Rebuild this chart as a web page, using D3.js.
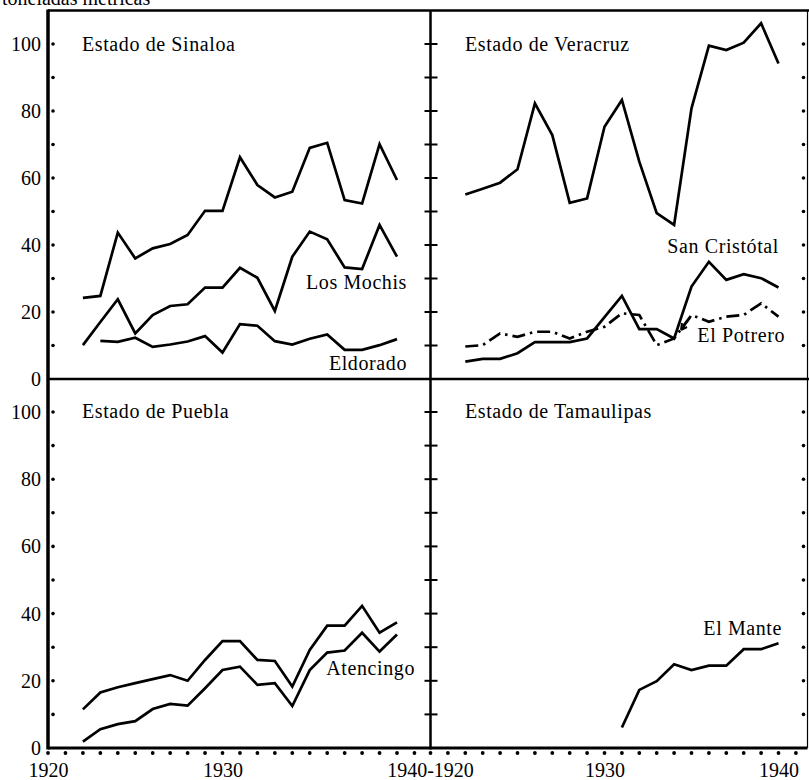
<!DOCTYPE html>
<html>
<head>
<meta charset="utf-8">
<script src="https://cdn.jsdelivr.net/npm/d3@7/dist/d3.min.js"></script>
<style>
  html, body { margin: 0; padding: 0; background: #fff; }
  svg { display: block; }
  svg text { font-family: "Liberation Serif", "Times New Roman", serif !important; fill: #000; }
</style>
</head>
<body>
<svg id="chart" width="809" height="780"></svg>
<script>
// Producción de azúcar por ingenio, 1922-1940 (miles de toneladas métricas)
const years = [1922,1923,1924,1925,1926,1927,1928,1929,1930,1931,1932,1933,1934,1935,1936,1937,1938,1939,1940];
const eldoradoYears = [1923,1924,1925,1926,1927,1928,1929,1930,1931,1932,1933,1934,1935,1936,1937,1938,1939,1940];
const manteYears = [1931,1932,1933,1934,1935,1936,1937,1938,1939,1940];

// Estado de Sinaloa
const sinaloaTotal = [24.2,24.8,43.7,36.0,39.0,40.3,43.0,50.2,50.2,66.2,57.9,54.2,55.9,69.0,70.5,53.4,52.4,70.1,59.4];
const losMochis    = [10.1,17.0,23.8,13.6,19.1,21.8,22.3,27.3,27.3,33.2,30.2,20.3,36.5,44.0,41.7,33.3,32.8,46.0,36.5];
const eldorado     = [11.4,11.1,12.3,9.6,10.3,11.2,12.8,7.9,16.4,15.9,11.3,10.3,12.0,13.3,8.7,8.7,10.1,11.9];

// Estado de Veracruz
const veracruzTotal = [55.1,56.8,58.6,62.6,82.3,72.8,52.6,53.9,75.3,83.3,64.9,49.5,46.0,80.8,99.5,98.2,100.4,106.2,94.2];
const sanCristobal  = [5.2,6.0,6.0,7.7,11.0,11.0,11.0,12.1,18.5,24.8,14.9,14.9,12.1,27.6,35.0,29.6,31.3,30.1,27.3];
const elPotrero     = [9.7,10.1,13.6,12.6,14.1,14.1,12.1,14.1,15.6,19.6,19.1,10.1,12.1,19.1,17.1,18.6,19.1,22.6,18.6];

// Estado de Puebla
const pueblaTotal = [11.5,16.5,18.1,19.3,20.5,21.7,20.0,26.2,31.8,31.8,26.2,25.9,18.3,29.2,36.4,36.4,42.3,34.3,37.4];
const atencingo   = [1.9,5.6,7.1,8.0,11.6,13.1,12.6,17.8,23.2,24.2,18.8,19.3,12.5,23.2,28.4,29.0,34.3,28.7,33.8];

// Estado de Tamaulipas
const elMante = [6.1,17.3,19.9,24.9,23.2,24.5,24.5,29.4,29.4,31.2];

const yTickValues = [0,20,40,60,80,100];
const yDotValues = [10,20,30,40,50,60,70,80,90,100];
const xTickLeft = [1920,1930];
const xTickRight = [1930,1940];
const yearDots = [1920,1921,1922,1923,1924,1925,1926,1927,1928,1929,1930,1931,1932,1933,1934,1935,1936,1937,1938,1939,1940,1941];

const SERIF = '"Liberation Serif", "Times New Roman", serif';
const svg = d3.select("#chart");

// Scales: two columns share one year spacing, two rows share one value spacing
const xLeft  = d3.scaleLinear().domain([1920, 1940]).range([48, 397]);
const xRight = d3.scaleLinear().domain([1920, 1940]).range([430.5, 778.5]);
const yTop    = d3.scaleLinear().domain([0, 100]).range([379, 44]);
const yBottom = d3.scaleLinear().domain([0, 100]).range([748, 412]);

const LEFT = 48, MID = 430.5, RIGHT = 806.5, TOP = 10.5, MIDY = 379, BOTTOM = 748;

// Unit caption (runs off the top edge)
svg.append("text").attr("x", 2).attr("y", 5)
  .style("font-family", SERIF).style("font-size", "20px")
  .text("toneladas métricas");

// Frame
const frame = svg.append("g").attr("stroke", "#000").attr("fill", "none");
frame.append("line").attr("x1", LEFT).attr("x2", 809).attr("y1", TOP).attr("y2", TOP).attr("stroke-width", 2.5);
frame.append("line").attr("x1", LEFT).attr("x2", 809).attr("y1", MIDY).attr("y2", MIDY).attr("stroke-width", 2.5);
frame.append("line").attr("x1", LEFT).attr("x2", RIGHT + 1).attr("y1", BOTTOM).attr("y2", BOTTOM).attr("stroke-width", 3);
frame.append("line").attr("x1", LEFT).attr("x2", LEFT).attr("y1", TOP - 1).attr("y2", BOTTOM + 1.5).attr("stroke-width", 3.5);
frame.append("line").attr("x1", MID).attr("x2", MID).attr("y1", TOP).attr("y2", BOTTOM + 1.5).attr("stroke-width", 2.5);
frame.append("line").attr("x1", RIGHT + 1).attr("x2", RIGHT + 1).attr("y1", TOP).attr("y2", BOTTOM).attr("stroke-width", 1.2);

// Left value axes with labels
[yTop, yBottom].forEach(ys => {
  const g = svg.append("g")
    .attr("transform", `translate(${LEFT - 7},0)`)
    .call(d3.axisLeft(ys).tickValues(yTickValues).tickSize(0).tickPadding(0).tickFormat(d3.format("d")));
  g.attr("font-family", null).attr("font-size", null);
  g.select(".domain").remove();
  g.selectAll("text")
    .style("font-family", SERIF)
    .style("font-size", "20px")
    .attr("fill", "#000")
    .attr("dy", "0.32em");
  // dots inside the left axis
  svg.append("g").selectAll("circle").data(yDotValues).join("circle")
    .attr("cx", LEFT + 5).attr("cy", d => ys(d)).attr("r", 1.8).attr("fill", "#000");
  // cross ticks on the middle axis
  svg.append("g").selectAll("line").data(yDotValues).join("line")
    .attr("x1", MID - 6).attr("x2", MID + 7)
    .attr("y1", d => ys(d)).attr("y2", d => ys(d))
    .attr("stroke", "#000").attr("stroke-width", 2);
  // dots along the right edge
  svg.append("g").selectAll("circle").data(yDotValues).join("circle")
    .attr("cx", RIGHT - 3).attr("cy", d => ys(d)).attr("r", 1.8).attr("fill", "#000");
});

// Year dots under the bottom axis
[xLeft, xRight].forEach(xs => {
  svg.append("g").selectAll("circle").data(yearDots).join("circle")
    .attr("cx", d => xs(d)).attr("cy", BOTTOM + 5).attr("r", 1.9).attr("fill", "#000");
});

// Year labels
function yearAxis(xs, ticks) {
  const g = svg.append("g")
    .attr("transform", `translate(0,${BOTTOM + 15})`)
    .call(d3.axisBottom(xs).tickValues(ticks).tickSize(0).tickPadding(0).tickFormat(d3.format("d")));
  g.attr("font-family", null).attr("font-size", null);
  g.select(".domain").remove();
  g.selectAll("text")
    .style("font-family", SERIF)
    .style("font-size", "20px")
    .attr("fill", "#000")
    .attr("dy", "0.7em");
}
yearAxis(xLeft, xTickLeft);
yearAxis(xRight, xTickRight);
svg.append("text")
  .attr("x", MID).attr("y", 777)
  .attr("text-anchor", "middle")
  .style("font-family", SERIF).style("font-size", "20px")
  .text("1940-1920");

// Panel titles
const titles = [
  { text: "Estado de Sinaloa",    x: 82,  y: 51 },
  { text: "Estado de Veracruz",   x: 465, y: 51 },
  { text: "Estado de Puebla",     x: 82,  y: 418 },
  { text: "Estado de Tamaulipas", x: 465, y: 418 }
];
svg.append("g").selectAll("text").data(titles).join("text")
  .attr("x", d => d.x).attr("y", d => d.y)
  .style("font-family", SERIF).style("font-size", "20px").attr("letter-spacing", 0.6)
  .text(d => d.text);

// Series lines
function drawLine(xs, ys, xVals, yVals, dash) {
  const pts = xVals.map((yr, i) => [yr, yVals[i]]);
  const line = d3.line().x(d => xs(d[0])).y(d => ys(d[1]));
  svg.append("path")
    .datum(pts)
    .attr("d", line)
    .attr("fill", "none")
    .attr("stroke", "#000")
    .attr("stroke-width", 2.7)
    .attr("stroke-linejoin", "miter")
    .attr("stroke-dasharray", dash || null);
}

drawLine(xLeft, yTop, years, sinaloaTotal);
drawLine(xLeft, yTop, years, losMochis);
drawLine(xLeft, yTop, eldoradoYears, eldorado);

drawLine(xRight, yTop, years, veracruzTotal);
drawLine(xRight, yTop, years, sanCristobal);
drawLine(xRight, yTop, years, elPotrero, "13,5,2.5,5");

drawLine(xLeft, yBottom, years, pueblaTotal);
drawLine(xLeft, yBottom, years, atencingo);

drawLine(xRight, yBottom, manteYears, elMante);

// Series labels
const seriesLabels = [
  { text: "Los Mochis",    x: 407, y: 289 },
  { text: "Eldorado",      x: 407, y: 370 },
  { text: "San Cristótal", x: 779, y: 253 },
  { text: "El Potrero",    x: 785, y: 342 },
  { text: "Atencingo",     x: 415, y: 675 },
  { text: "El Mante",      x: 782, y: 635 }
];
svg.append("g").selectAll("text").data(seriesLabels).join("text")
  .attr("x", d => d.x).attr("y", d => d.y)
  .attr("text-anchor", "end")
  .style("font-family", SERIF).style("font-size", "20px").attr("letter-spacing", 0.6)
  .text(d => d.text);

// Pointer from the El Potrero label to its line
svg.append("path")
  .attr("d", "M690,318 L681,330 M681,330 L682,323 M681,330 L687,327")
  .attr("fill", "none").attr("stroke", "#000").attr("stroke-width", 2);
</script>
</body>
</html>
